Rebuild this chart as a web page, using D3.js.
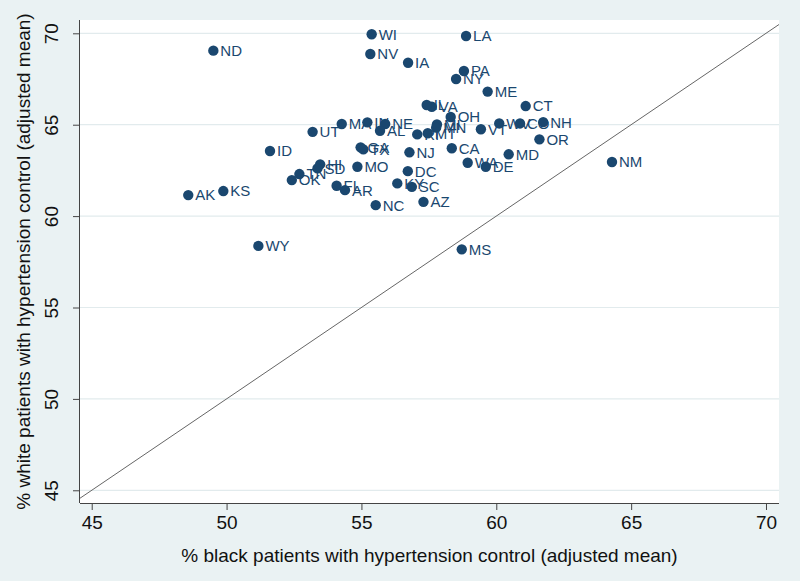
<!DOCTYPE html>
<html>
<head>
<meta charset="utf-8">
<script src="https://cdn.jsdelivr.net/npm/d3@7"></script>
<style>
  html, body { margin: 0; padding: 0; background: #eaf2f3; }
  svg { display: block; }
  text { font-family: "Liberation Sans", Arial, sans-serif; }
</style>
</head>
<body>
<svg id="chart" width="800" height="581"></svg>
<script>
// ---- data ----
const states = ["ND","WI","NV","IA","LA","PA","NY","ME","CT","VA","IL","OH","MI","MN","RI","MT","VT","WV","CO","NH","IN","MA","NE","AL","UT","ID","GA","TX","NJ","CA","OR","MD","WA","DE","NM","DC","MO","HI","SD","TN","OK","FL","AR","NC","KY","SC","AZ","MS","AK","KS","WY"];
const blackControl = [49.51,55.38,55.33,56.73,58.88,58.80,58.51,59.68,61.09,57.61,57.42,58.31,57.80,57.77,57.07,57.46,59.43,60.11,60.88,61.74,55.22,54.27,55.88,55.69,53.19,51.61,54.97,55.07,56.78,58.35,61.60,60.46,58.94,59.61,64.29,56.72,54.85,53.47,53.37,52.70,52.42,54.08,54.39,55.53,56.33,56.87,57.30,58.72,48.58,49.88,51.18];
const whiteControl = [69.05,69.95,68.87,68.39,69.85,67.94,67.50,66.81,66.02,65.98,66.08,65.42,65.01,64.84,64.47,64.53,64.75,65.07,65.07,65.14,65.13,65.04,65.04,64.67,64.61,63.56,63.76,63.65,63.49,63.71,64.20,63.38,62.92,62.70,62.96,62.46,62.70,62.83,62.61,62.30,61.97,61.66,61.42,60.60,61.79,61.60,60.78,58.18,61.15,61.37,58.37];
const xTicks = [45, 50, 55, 60, 65, 70];
const yTicks = [45, 50, 55, 60, 65, 70];
const xTitle = "% black patients with hypertension control (adjusted mean)";
const yTitle = "% white patients with hypertension control (adjusted mean)";

const points = states.map((s, i) => ({ state: s, x: blackControl[i], y: whiteControl[i] }));

// ---- layout ----
const W = 800, H = 581;
const plot = { left: 80, right: 779, top: 20, bottom: 503 };
const xDomain = [44.566, 70.482];
const yDomain = [44.305, 70.728];
const navy = "#1a476f";

const svg = d3.select("#chart");
svg.append("rect").attr("width", W).attr("height", H).attr("fill", "#eaf2f3");

const x = d3.scaleLinear().domain(xDomain).range([plot.left, plot.right]);
const y = d3.scaleLinear().domain(yDomain).range([plot.bottom, plot.top]);

// plot region
svg.append("rect")
  .attr("x", plot.left).attr("y", plot.top)
  .attr("width", plot.right - plot.left).attr("height", plot.bottom - plot.top)
  .attr("fill", "#ffffff");

// gridlines
svg.append("g").selectAll("line").data(yTicks).join("line")
  .attr("x1", plot.left).attr("x2", plot.right)
  .attr("y1", d => y(d)).attr("y2", d => y(d))
  .attr("stroke", "#e2ebed").attr("stroke-width", 1.2);

// diagonal y = x
const lo = Math.max(xDomain[0], yDomain[0]);
const hi = Math.min(xDomain[1], yDomain[1]);
svg.append("line")
  .attr("x1", x(lo)).attr("y1", y(lo))
  .attr("x2", x(hi)).attr("y2", y(hi))
  .attr("stroke", "#666").attr("stroke-width", 1);

// axes
const xAxis = d3.axisBottom(x).tickValues(xTicks).tickSize(7).tickPadding(6).tickFormat(d3.format("d"));
const gx = svg.append("g").attr("transform", `translate(0,${plot.bottom})`).call(xAxis);
gx.select(".domain").attr("stroke", "#444").attr("d", `M${plot.left},0.5H${plot.right}`);
gx.selectAll(".tick line").attr("stroke", "#444");
gx.selectAll(".tick text").attr("font-size", 19).attr("fill", "#111")
  .attr("font-family", "'Liberation Sans', Arial, sans-serif");

const yAxis = d3.axisLeft(y).tickValues(yTicks).tickSize(7).tickPadding(6).tickFormat(d3.format("d"));
const gy = svg.append("g").attr("transform", `translate(${plot.left},0)`).call(yAxis);
gy.select(".domain").attr("stroke", "#444").attr("d", `M-0.5,${plot.top}V${plot.bottom}`);
gy.selectAll(".tick line").attr("stroke", "#444");
gy.selectAll(".tick text")
  .attr("font-size", 19).attr("fill", "#111")
  .attr("font-family", "'Liberation Sans', Arial, sans-serif")
  .attr("x", null).attr("dy", null)
  .attr("text-anchor", "middle")
  .attr("transform", "translate(-22,0) rotate(-90)");

// axis titles
svg.append("text")
  .attr("x", (plot.left + plot.right) / 2).attr("y", 562)
  .attr("text-anchor", "middle").attr("font-size", 19).attr("fill", "#111")
  .text(xTitle);
svg.append("text")
  .attr("transform", `translate(30,${(plot.top + plot.bottom) / 2}) rotate(-90)`)
  .attr("text-anchor", "middle").attr("font-size", 19).attr("fill", "#111")
  .text(yTitle);

// points
const g = svg.append("g");
g.selectAll("circle").data(points).join("circle")
  .attr("cx", d => x(d.x)).attr("cy", d => y(d.y)).attr("r", 5.2)
  .attr("fill", navy);
g.selectAll("text").data(points).join("text")
  .attr("x", d => x(d.x) + 7).attr("y", d => y(d.y)).attr("dy", "0.36em")
  .attr("font-size", 15).attr("fill", navy)
  .text(d => d.state);
</script>
</body>
</html>
